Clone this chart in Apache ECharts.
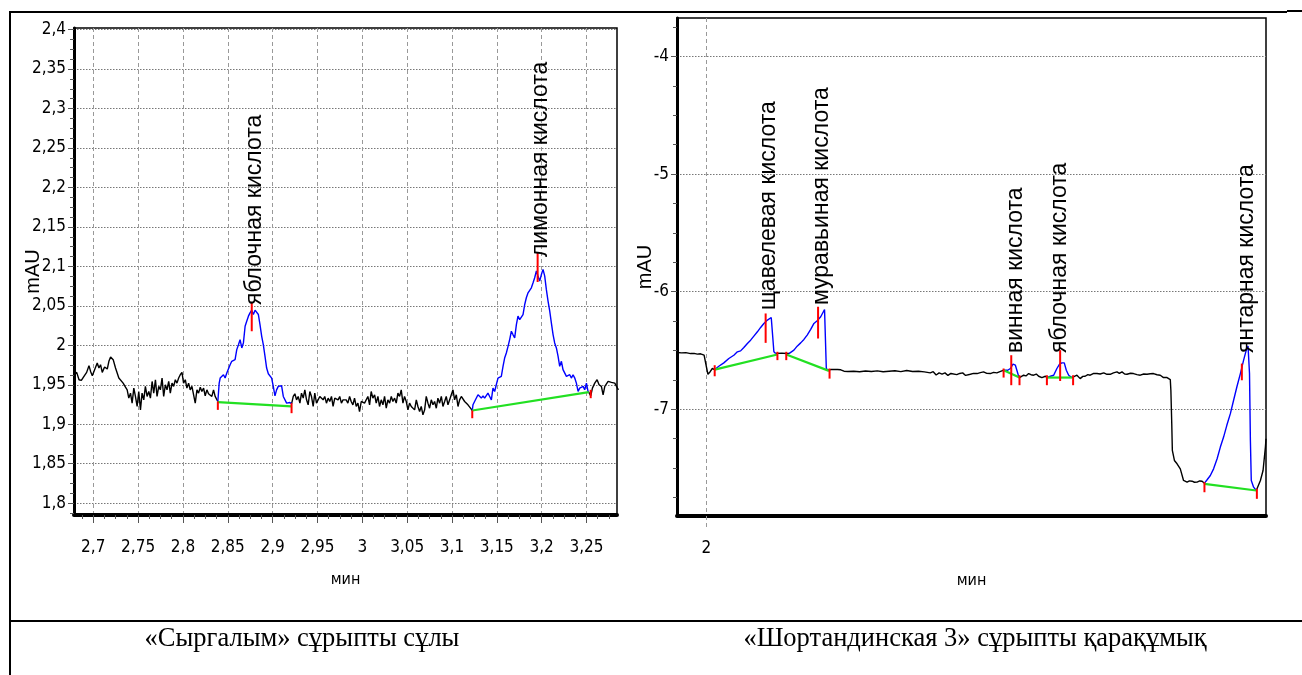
<!DOCTYPE html>
<html>
<head>
<meta charset="utf-8">
<script src="https://cdn.jsdelivr.net/npm/echarts@6/dist/echarts.min.js"></script>
<style>
  html, body { margin: 0; padding: 0; background: #fff; }
  #main { width: 1302px; height: 675px; }
</style>
</head>
<body>
<div id="main"></div>
<script>
// ---- left chromatogram: «Сыргалым» (time, mAU) ----
const leftBase1 = [[2.6785,1.9627],[2.6815,1.9657],[2.6841,1.9564],[2.6867,1.9555],[2.6896,1.9606],[2.6926,1.9657],[2.6952,1.9742],[2.6970,1.9669],[2.6989,1.9614],[2.7015,1.9691],[2.7044,1.9775],[2.7063,1.9712],[2.7081,1.9754],[2.7100,1.9657],[2.7126,1.9725],[2.7156,1.9699],[2.7174,1.9797],[2.7193,1.9852],[2.7222,1.9818],[2.7248,1.9712],[2.7267,1.9691],[2.7285,1.9585],[2.7304,1.9606],[2.7333,1.9521],[2.7359,1.9470],[2.7378,1.9436],[2.7396,1.9331],[2.7415,1.9394],[2.7433,1.9267],[2.7452,1.9458],[2.7470,1.9352],[2.7489,1.9225],[2.7507,1.9415],[2.7526,1.9182],[2.7544,1.9394],[2.7563,1.9309],[2.7581,1.9479],[2.7600,1.9352],[2.7619,1.9415],[2.7637,1.9331],[2.7656,1.9542],[2.7674,1.9394],[2.7693,1.9564],[2.7711,1.9352],[2.7730,1.9479],[2.7748,1.9436],[2.7767,1.9585],[2.7785,1.9352],[2.7804,1.9500],[2.7822,1.9436],[2.7841,1.9542],[2.7859,1.9394],[2.7878,1.9521],[2.7896,1.9479],[2.7915,1.9564],[2.7933,1.9521],[2.7952,1.9585],[2.7970,1.9627],[2.7989,1.9657],[2.8007,1.9521],[2.8026,1.9564],[2.8044,1.9458],[2.8063,1.9521],[2.8081,1.9436],[2.8100,1.9479],[2.8119,1.9500],[2.8137,1.9267],[2.8156,1.9436],[2.8174,1.9394],[2.8193,1.9470],[2.8211,1.9415],[2.8230,1.9458],[2.8248,1.9360],[2.8267,1.9436],[2.8285,1.9386],[2.8304,1.9403],[2.8322,1.9352],[2.8341,1.9436],[2.8359,1.9352],[2.8378,1.9331],[2.8389,1.9288]];
const leftPeak1 = [[2.8389,1.9288],[2.8404,1.9521],[2.8415,1.9585],[2.8433,1.9564],[2.8452,1.9627],[2.8470,1.9585],[2.8489,1.9648],[2.8507,1.9669],[2.8526,1.9754],[2.8544,1.9797],[2.8563,1.9775],[2.8581,1.9818],[2.8600,1.9945],[2.8619,2.0008],[2.8637,2.0072],[2.8656,1.9966],[2.8674,2.0030],[2.8693,2.0242],[2.8711,2.0305],[2.8730,2.0369],[2.8748,2.0411],[2.8767,2.0445],[2.8785,2.0390],[2.8804,2.0445],[2.8822,2.0453],[2.8841,2.0390],[2.8859,2.0263],[2.8878,2.0114],[2.8896,2.0008],[2.8915,1.9860],[2.8933,1.9712],[2.8952,1.9640],[2.8970,1.9627],[2.8989,1.9585],[2.9007,1.9479],[2.9026,1.9360],[2.9044,1.9436],[2.9063,1.9479],[2.9081,1.9500],[2.9100,1.9487],[2.9119,1.9352],[2.9137,1.9331],[2.9156,1.9267],[2.9174,1.9258],[2.9193,1.9275],[2.9211,1.9258]];
const leftBase2 = [[2.9211,1.9258],[2.9230,1.9352],[2.9248,1.9386],[2.9267,1.9309],[2.9285,1.9352],[2.9304,1.9267],[2.9322,1.9394],[2.9341,1.9331],[2.9359,1.9436],[2.9378,1.9309],[2.9396,1.9246],[2.9415,1.9415],[2.9433,1.9352],[2.9452,1.9225],[2.9470,1.9394],[2.9489,1.9267],[2.9507,1.9246],[2.9526,1.9352],[2.9544,1.9373],[2.9563,1.9309],[2.9581,1.9352],[2.9600,1.9267],[2.9619,1.9331],[2.9637,1.9288],[2.9656,1.9352],[2.9674,1.9225],[2.9693,1.9331],[2.9711,1.9352],[2.9730,1.9309],[2.9748,1.9352],[2.9767,1.9267],[2.9785,1.9309],[2.9807,1.9288],[2.9820,1.9309],[2.9839,1.9267],[2.9858,1.9352],[2.9876,1.9288],[2.9895,1.9246],[2.9913,1.9331],[2.9932,1.9225],[2.9951,1.9267],[2.9969,1.9161],[2.9988,1.9288],[3.0006,1.9309],[3.0025,1.9267],[3.0044,1.9288],[3.0062,1.9352],[3.0081,1.9246],[3.0099,1.9415],[3.0118,1.9331],[3.0137,1.9373],[3.0155,1.9267],[3.0174,1.9352],[3.0192,1.9225],[3.0211,1.9309],[3.0230,1.9246],[3.0248,1.9352],[3.0267,1.9203],[3.0285,1.9309],[3.0304,1.9267],[3.0323,1.9352],[3.0341,1.9288],[3.0360,1.9331],[3.0378,1.9267],[3.0397,1.9394],[3.0416,1.9352],[3.0434,1.9436],[3.0453,1.9267],[3.0471,1.9352],[3.0490,1.9288],[3.0509,1.9182],[3.0527,1.9267],[3.0546,1.9225],[3.0564,1.9246],[3.0583,1.9182],[3.0602,1.9309],[3.0620,1.9225],[3.0639,1.9161],[3.0657,1.9225],[3.0676,1.9119],[3.0695,1.9182],[3.0713,1.9352],[3.0732,1.9267],[3.0750,1.9203],[3.0769,1.9309],[3.0788,1.9246],[3.0806,1.9288],[3.0825,1.9203],[3.0843,1.9331],[3.0862,1.9267],[3.0881,1.9352],[3.0899,1.9225],[3.0918,1.9288],[3.0936,1.9352],[3.0955,1.9246],[3.0974,1.9309],[3.0992,1.9288],[3.1011,1.9436],[3.1029,1.9309],[3.1048,1.9373],[3.1067,1.9225],[3.1085,1.9309],[3.1104,1.9352],[3.1122,1.9331],[3.1141,1.9288],[3.1160,1.9267],[3.1178,1.9246],[3.1197,1.9225],[3.1215,1.9191],[3.1226,1.9174]];
const leftPeak2 = [[3.1226,1.9174],[3.1234,1.9246],[3.1252,1.9288],[3.1271,1.9309],[3.1290,1.9373],[3.1308,1.9352],[3.1327,1.9331],[3.1346,1.9360],[3.1364,1.9331],[3.1383,1.9352],[3.1401,1.9394],[3.1420,1.9352],[3.1439,1.9309],[3.1457,1.9458],[3.1476,1.9415],[3.1494,1.9500],[3.1513,1.9585],[3.1532,1.9572],[3.1550,1.9606],[3.1569,1.9733],[3.1587,1.9839],[3.1606,1.9903],[3.1625,1.9987],[3.1643,2.0072],[3.1662,2.0178],[3.1680,2.0136],[3.1699,2.0093],[3.1718,2.0263],[3.1736,2.0369],[3.1755,2.0326],[3.1773,2.0305],[3.1792,2.0390],[3.1811,2.0517],[3.1829,2.0602],[3.1848,2.0665],[3.1866,2.0674],[3.1885,2.0729],[3.1904,2.0792],[3.1922,2.0856],[3.1941,2.0941],[3.1959,2.0877],[3.1978,2.0814],[3.1997,2.0898],[3.2015,2.0962],[3.2034,2.0877],[3.2052,2.0708],[3.2071,2.0559],[3.2090,2.0432],[3.2108,2.0284],[3.2127,2.0136],[3.2145,2.0030],[3.2164,1.9966],[3.2183,1.9860],[3.2201,1.9733],[3.2220,1.9797],[3.2238,1.9691],[3.2257,1.9669],[3.2276,1.9606],[3.2294,1.9585],[3.2313,1.9627],[3.2331,1.9585],[3.2350,1.9627],[3.2369,1.9585],[3.2387,1.9521],[3.2406,1.9415],[3.2424,1.9458],[3.2443,1.9436],[3.2462,1.9479],[3.2480,1.9436],[3.2499,1.9521],[3.2517,1.9415],[3.2525,1.9407]];
const leftBase3 = [[3.2525,1.9407],[3.2547,1.9360],[3.2566,1.9458],[3.2592,1.9521],[3.2618,1.9564],[3.2640,1.9500],[3.2666,1.9479],[3.2685,1.9373],[3.2704,1.9479],[3.2722,1.9500],[3.2741,1.9542],[3.2759,1.9521],[3.2778,1.9530],[3.2797,1.9555],[3.2815,1.9521],[3.2834,1.9500],[3.2856,1.9436]];
const leftBaselines = [[[2.8389,1.9280],[2.9211,1.9225]], [[3.1226,1.9174],[3.2525,1.9407]]];
const leftMarks = [[2.8389,1.9288,1.9182],[2.8767,2.0538,2.0178],[2.9211,1.9267,1.9140],[3.1226,1.9174,1.9076],[3.1955,2.1170,2.0802],[3.2547,1.9436,1.9330]];
const leftPeakNames = ['яблочная кислота', 'лимонная кислота'];
const leftNamePos = [[2.8805,2.0510], [3.1993,2.1118]];
const leftXTicks = [2.7, 2.75, 2.8, 2.85, 2.9, 2.95, 3, 3.05, 3.1, 3.15, 3.2, 3.25];
const leftYTicks = [1.8, 1.85, 1.9, 1.95, 2, 2.05, 2.1, 2.15, 2.2, 2.25, 2.3, 2.35, 2.4];

// ---- right chromatogram: «Шортандинская 3» ----
const rightBase1 = [[1.901,-6.517],[1.915,-6.520],[1.930,-6.518],[1.946,-6.526],[1.958,-6.524],[1.969,-6.531],[1.980,-6.528],[1.992,-6.540],[1.997,-6.554],[2.001,-6.653],[2.005,-6.702],[2.012,-6.682],[2.020,-6.653],[2.028,-6.662]];
const rightPeak1 = [[2.028,-6.662],[2.042,-6.634],[2.059,-6.605],[2.076,-6.568],[2.093,-6.540],[2.105,-6.511],[2.116,-6.503],[2.127,-6.474],[2.139,-6.440],[2.150,-6.412],[2.161,-6.378],[2.173,-6.341],[2.184,-6.304],[2.195,-6.270],[2.207,-6.241],[2.220,-6.219],[2.229,-6.511],[2.235,-6.526]];
const rightBase2 = [[2.235,-6.526],[2.241,-6.526],[2.256,-6.522],[2.271,-6.526],[2.280,-6.526]];
const rightPeak2 = [[2.280,-6.526],[2.286,-6.524],[2.297,-6.497],[2.308,-6.463],[2.320,-6.435],[2.331,-6.406],[2.342,-6.369],[2.354,-6.321],[2.365,-6.270],[2.376,-6.247],[2.388,-6.213],[2.401,-6.151],[2.407,-6.653],[2.413,-6.668]];
const rightBase3 = [[2.413,-6.668],[2.422,-6.662],[2.445,-6.662],[2.456,-6.664],[2.467,-6.676],[2.480,-6.678],[2.500,-6.676],[2.520,-6.680],[2.540,-6.674],[2.560,-6.679],[2.580,-6.673],[2.600,-6.681],[2.620,-6.676],[2.640,-6.672],[2.660,-6.680],[2.680,-6.670],[2.700,-6.679],[2.720,-6.676],[2.740,-6.682],[2.760,-6.690],[2.770,-6.680],[2.780,-6.708],[2.790,-6.690],[2.800,-6.700],[2.810,-6.690],[2.820,-6.712],[2.830,-6.695],[2.850,-6.705],[2.860,-6.695],[2.870,-6.690],[2.880,-6.712],[2.896,-6.702],[2.907,-6.695],[2.919,-6.696],[2.930,-6.688],[2.941,-6.682],[2.952,-6.694],[2.964,-6.696],[2.975,-6.686],[2.986,-6.690],[3.003,-6.673],[3.009,-6.668]];
const rightPeak3 = [[3.009,-6.668],[3.015,-6.673],[3.023,-6.668],[3.032,-6.653],[3.041,-6.616],[3.049,-6.625],[3.054,-6.668],[3.060,-6.719],[3.063,-6.730]];
const rightBase4 = [[3.063,-6.730],[3.066,-6.730],[3.077,-6.710],[3.085,-6.716],[3.094,-6.696],[3.102,-6.706],[3.111,-6.710],[3.120,-6.700],[3.128,-6.719],[3.139,-6.730],[3.145,-6.715],[3.151,-6.719],[3.156,-6.730]];
const rightPeak4 = [[3.156,-6.730],[3.168,-6.719],[3.179,-6.710],[3.190,-6.653],[3.199,-6.616],[3.207,-6.605],[3.215,-6.605],[3.222,-6.668],[3.230,-6.710],[3.241,-6.730]];
const rightBase5 = [[3.241,-6.730],[3.247,-6.730],[3.258,-6.710],[3.269,-6.739],[3.278,-6.720],[3.286,-6.719],[3.295,-6.705],[3.303,-6.710],[3.315,-6.695],[3.326,-6.696],[3.337,-6.700],[3.349,-6.690],[3.360,-6.702],[3.371,-6.702],[3.382,-6.690],[3.394,-6.682],[3.402,-6.695],[3.411,-6.682],[3.420,-6.700],[3.428,-6.702],[3.440,-6.693],[3.450,-6.696],[3.462,-6.705],[3.473,-6.710],[3.485,-6.700],[3.496,-6.702],[3.507,-6.698],[3.518,-6.696],[3.530,-6.706],[3.541,-6.710],[3.547,-6.725],[3.552,-6.730],[3.564,-6.730],[3.575,-6.747],[3.577,-6.838],[3.580,-7.122],[3.582,-7.349],[3.589,-7.435],[3.598,-7.463],[3.609,-7.506],[3.620,-7.605],[3.632,-7.619],[3.640,-7.608],[3.649,-7.611],[3.657,-7.620],[3.666,-7.619],[3.675,-7.609],[3.683,-7.611],[3.691,-7.628]];
const rightPeak5 = [[3.691,-7.628],[3.700,-7.599],[3.711,-7.563],[3.722,-7.506],[3.734,-7.420],[3.745,-7.321],[3.756,-7.236],[3.767,-7.136],[3.779,-7.037],[3.790,-6.923],[3.801,-6.810],[3.813,-6.696],[3.824,-6.582],[3.833,-6.497],[3.839,-6.463],[3.844,-6.696],[3.847,-7.264],[3.850,-7.605],[3.858,-7.662],[3.867,-7.690]];
const rightBase6 = [[3.867,-7.690],[3.872,-7.676],[3.881,-7.605],[3.890,-7.520],[3.898,-7.321],[3.900,-7.250]];
const rightBaselines = [[[2.028,-6.662],[2.241,-6.534]], [[2.271,-6.534],[2.416,-6.673]], [[3.009,-6.668],[3.063,-6.730]], [[3.156,-6.730],[3.241,-6.730]], [[3.691,-7.634],[3.867,-7.690]]];
const rightMarks = [[2.028,-6.625,-6.719],[2.201,-6.185,-6.435],[2.241,-6.511,-6.582],[2.271,-6.511,-6.582],[2.379,-6.128,-6.398],[2.418,-6.653,-6.739],[3.009,-6.653,-6.730],[3.035,-6.540,-6.795],[3.063,-6.710,-6.795],[3.156,-6.710,-6.795],[3.201,-6.497,-6.759],[3.245,-6.710,-6.795],[3.691,-7.619,-7.705],[3.818,-6.611,-6.753],[3.869,-7.676,-7.761]];
const rightPeakNames = ['щавелевая кислота', 'муравьиная кислота', 'винная кислота', 'яблочная кислота', 'янтарная кислота'];
const rightNamePos = [[2.211,-6.156], [2.392,-6.113], [3.049,-6.521], [3.201,-6.521], [3.833,-6.521]];
const rightXTicks = [2];
const rightYTicks = [-7, -6, -5, -4];

const captions = ['«Сыргалым» сұрыпты сұлы', '«Шортандинская 3» сұрыпты қарақұмық'];

const narrow = "'Liberation Sans Narrow', 'DejaVu Sans Condensed', 'Arial Narrow', sans-serif";
const sans = "'Liberation Sans', Arial, sans-serif";
const serif = "'Liberation Serif', 'Times New Roman', serif";
const comma = v => String(v).replace('.', ',');

// minor ticks: quarter steps between majors
function quarters(first, step, min, max, majors) {
  const out = [];
  for (let v = first; v <= max + 1e-9; v += step / 4) {
    const r = Math.round(v * 10000) / 10000;
    if (r >= min && !majors.some(m => Math.abs(m - r) < 1e-6)) out.push(r);
  }
  return out;
}
const leftXMinor = quarters(2.6875, 0.05, 2.6785, 3.284, leftXTicks);
const leftYMinor = quarters(1.7875, 0.05, 1.785, 2.402, leftYTicks);
const rightYMinor = quarters(-7.75, 1, -7.907, -3.673, rightYTicks);

function majorX(grid, min, max, ticks, tickLen, tickStyle, split) {
  return {
    gridIndex: grid, type: 'value', min: min, max: max, position: 'bottom',
    axisLine: { show: true, onZero: false, lineStyle: { color: '#000', width: 4 } },
    axisTick: { show: true, customValues: ticks, length: tickLen, lineStyle: tickStyle },
    axisLabel: { customValues: ticks, formatter: comma, margin: 24, color: '#000', fontFamily: narrow, fontSize: 17 },
    splitLine: { show: true, lineStyle: split },
    name: 'мин', nameLocation: 'middle', nameGap: 57, nameMoveOverlap: false,
    nameTextStyle: { color: '#000', fontFamily: narrow, fontSize: 16 }
  };
}
function majorY(grid, min, max, ticks, gap) {
  return {
    gridIndex: grid, type: 'value', min: min, max: max, position: 'left',
    axisLine: { show: true, onZero: false, lineStyle: { color: '#000', width: 3 } },
    axisTick: { show: true, customValues: ticks, length: 6, lineStyle: { color: '#555', width: 1 } },
    axisLabel: { customValues: ticks, formatter: comma, margin: 8, color: '#000', fontFamily: narrow, fontSize: 17 },
    splitLine: { show: true, lineStyle: { color: '#777', type: [1.5, 1.5], width: 1 } },
    name: 'mAU', nameLocation: 'middle', nameRotate: 90, nameGap: gap, nameMoveOverlap: false,
    nameTextStyle: { color: '#000', fontFamily: sans, fontSize: 20 }
  };
}
function minorAxis(grid, min, max, ticks, pos) {
  return {
    gridIndex: grid, type: 'value', min: min, max: max, position: pos,
    axisLine: { show: false },
    axisTick: { show: true, customValues: ticks, length: 4, lineStyle: { color: '#555', width: 1 } },
    axisLabel: { show: false }, splitLine: { show: false }
  };
}

function trace(data, color, xi, yi, z) {
  return { type: 'line', data: data, xAxisIndex: xi, yAxisIndex: yi, showSymbol: false, symbol: 'none',
    lineStyle: { color: color, width: 1.4 }, z: z, silent: true, animation: false, clip: true };
}
function baselines(segs, xi, yi) {
  return segs.map(s => ({ type: 'line', data: s, xAxisIndex: xi, yAxisIndex: yi, showSymbol: false, symbol: 'none',
    lineStyle: { color: '#22e022', width: 2.2 }, z: 4, silent: true, animation: false }));
}
function marks(data, xi, yi) {
  return { type: 'custom', data: data, xAxisIndex: xi, yAxisIndex: yi, z: 5, silent: true, animation: false,
    renderItem: (params, api) => {
      const a = api.coord([api.value(0), api.value(1)]);
      const b = api.coord([api.value(0), api.value(2)]);
      return { type: 'line', shape: { x1: a[0], y1: a[1], x2: b[0], y2: b[1] }, style: { stroke: '#ff0000', lineWidth: 2 } };
    } };
}
function names(pos, texts, xi, yi) {
  return { type: 'custom', data: pos, xAxisIndex: xi, yAxisIndex: yi, z: 6, silent: true, animation: false,
    renderItem: (params, api) => {
      const p = api.coord([api.value(0), api.value(1)]);
      return { type: 'text', x: p[0], y: p[1], rotation: Math.PI / 2,
        style: { text: texts[params.dataIndex], fill: '#000', fontFamily: sans, fontSize: 23, align: 'left', verticalAlign: 'middle' } };
    } };
}

const tickGray = { color: '#555', width: 1 };
const splitDash = { color: '#999', type: [4, 3], width: 1 };

const option = {
  backgroundColor: '#fff',
  animation: false,
  grid: [
    { left: 74, top: 28, width: 543, height: 487, show: true, borderColor: '#000', borderWidth: 1.5, containLabel: false, outerBoundsMode: 'none' },
    { left: 677, top: 18, width: 589, height: 498, show: true, borderColor: '#000', borderWidth: 1.5, containLabel: false, outerBoundsMode: 'none' }
  ],
  xAxis: [
    majorX(0, 2.6785, 3.284, leftXTicks, 8, tickGray, splitDash),
    minorAxis(0, 2.6785, 3.284, leftXMinor, 'bottom'),
    majorX(1, 1.9, 3.9, rightXTicks, 11, { color: '#999', width: 1, type: [4, 3] }, splitDash),
    minorAxis(1, 1.9, 3.9, [], 'bottom')
  ],
  yAxis: [
    majorY(0, 1.785, 2.402, leftYTicks, 31),
    minorAxis(0, 1.785, 2.402, leftYMinor, 'left'),
    majorY(1, -7.907, -3.673, rightYTicks, 22),
    minorAxis(1, -7.907, -3.673, rightYMinor, 'left')
  ],
  series: [
    trace(leftBase1, '#000', 0, 0, 2), trace(leftBase2, '#000', 0, 0, 2), trace(leftBase3, '#000', 0, 0, 2),
    trace(leftPeak1, '#0000ff', 0, 0, 3), trace(leftPeak2, '#0000ff', 0, 0, 3),
    ...baselines(leftBaselines, 0, 0),
    marks(leftMarks, 0, 0),
    names(leftNamePos, leftPeakNames, 0, 0),
    trace(rightBase1, '#000', 2, 2, 2), trace(rightBase2, '#000', 2, 2, 2), trace(rightBase3, '#000', 2, 2, 2),
    trace(rightBase4, '#000', 2, 2, 2), trace(rightBase5, '#000', 2, 2, 2), trace(rightBase6, '#000', 2, 2, 2),
    trace(rightPeak1, '#0000ff', 2, 2, 3), trace(rightPeak2, '#0000ff', 2, 2, 3), trace(rightPeak3, '#0000ff', 2, 2, 3),
    trace(rightPeak4, '#0000ff', 2, 2, 3), trace(rightPeak5, '#0000ff', 2, 2, 3),
    ...baselines(rightBaselines, 2, 2),
    marks(rightMarks, 2, 2),
    names(rightNamePos, rightPeakNames, 2, 2)
  ],
  graphic: [
    // table frame
    { type: 'line', shape: { x1: 10, y1: 12, x2: 1287, y2: 12 }, style: { stroke: '#000', lineWidth: 2 } },
    { type: 'line', shape: { x1: 1287, y1: 11, x2: 1302, y2: 11 }, style: { stroke: '#000', lineWidth: 2 } },
    { type: 'line', shape: { x1: 10, y1: 11, x2: 10, y2: 675 }, style: { stroke: '#000', lineWidth: 2 } },
    { type: 'line', shape: { x1: 10, y1: 621, x2: 1302, y2: 621 }, style: { stroke: '#000', lineWidth: 2 } },
    { type: 'text', x: 302, y: 639, style: { text: captions[0], fill: '#000', fontFamily: serif, fontSize: 26.5, align: 'center', verticalAlign: 'middle' } },
    { type: 'text', x: 975, y: 639, style: { text: captions[1], fill: '#000', fontFamily: serif, fontSize: 26.5, align: 'center', verticalAlign: 'middle' } }
  ]
};

const chart = echarts.init(document.getElementById('main'));
chart.setOption(option);
</script>
</body>
</html>
